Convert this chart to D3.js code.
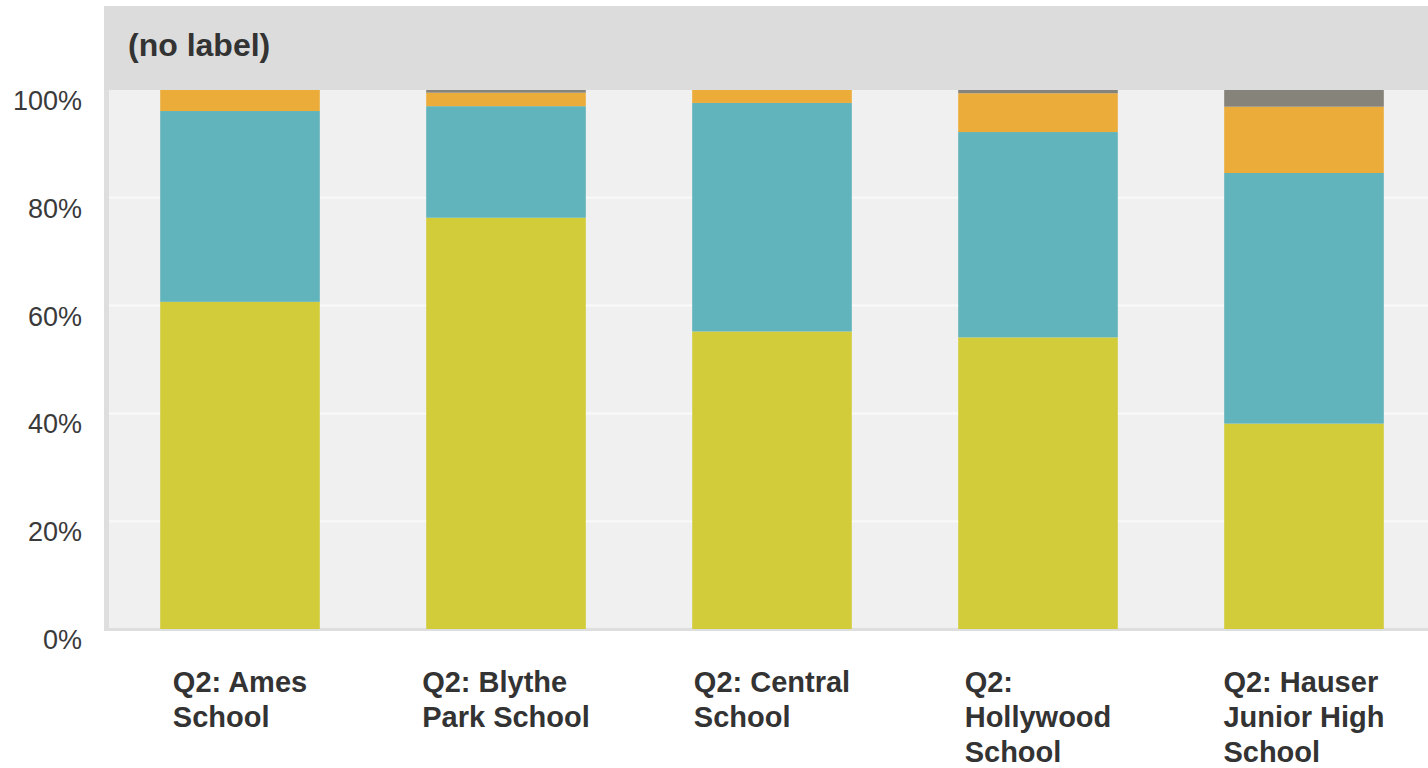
<!DOCTYPE html>
<html>
<head>
<meta charset="utf-8">
<script src="https://cdn.jsdelivr.net/npm/d3@7"></script>
<style>
  body { margin: 0; background: #fff; }
  text { font-family: "Liberation Sans", Arial, Helvetica, sans-serif; }
</style>
</head>
<body>
<div class="chart"></div>
<script>
// schools (categories)
var schools = ["Q2: Ames School", "Q2: Blythe Park School", "Q2: Central School",
               "Q2: Hollywood School", "Q2: Hauser Junior High School"];
// stacked shares in percent, bottom to top
var seriesNames = ["s1", "s2", "s3", "s4"];
var s1 = [60.7, 76.3, 55.2, 54.1, 38.1];
var s2 = [35.4, 20.7, 42.4, 38.1, 46.5];
var s3 = [3.9, 2.5, 2.4, 7.2, 12.3];
var s4 = [0.0, 0.5, 0.0, 0.6, 3.1];
var colors = ["#d2cc3a", "#61b4bb", "#ebac39", "#86847a"];
var yTicks = [0, 20, 40, 60, 80, 100];
var title = "(no label)";

const width = 1428;
const height = 768;

const svg = d3.select('.chart')
    .append('svg')
    .attr('width', width)
    .attr('height', height);

var rows = schools.map(function (d, i) {
    return { school: d, s1: s1[i], s2: s2[i], s3: s3[i], s4: s4[i] };
});
var stacked = d3.stack().keys(seriesNames)(rows);

var x = d3.scaleBand()
    .domain(schools)
    .range([107, 1437])
    .paddingInner(0.4)
    .paddingOuter(0.2);

var y = d3.scaleLinear()
    .domain([0, 100])
    .range([629, 90]);

// header band
svg.append('rect')
    .attr('x', 104).attr('y', 6)
    .attr('width', width - 104).attr('height', 84)
    .attr('fill', '#dcdcdc');
svg.append('text')
    .attr('x', 128).attr('y', 56)
    .attr('font-size', '32px')
    .attr('font-weight', 'bold')
    .attr('fill', '#333')
    .text(title);

// plot background and borders
svg.append('rect')
    .attr('x', 104).attr('y', 90)
    .attr('width', width - 104).attr('height', 541)
    .attr('fill', '#dedede');
svg.append('rect')
    .attr('x', 109).attr('y', 90)
    .attr('width', width - 109).attr('height', 538)
    .attr('fill', '#f0f0f0');

// gridlines
svg.append('g')
    .selectAll('line')
    .data(yTicks.filter(function (d) { return d > 0 && d < 100; }))
    .enter()
    .append('line')
        .attr('x1', 109).attr('x2', width)
        .attr('y1', function (d) { return y(d); })
        .attr('y2', function (d) { return y(d); })
        .attr('stroke', '#f9f9f9')
        .attr('stroke-width', 2);

// bars
svg.append('g')
    .selectAll('g')
    .data(stacked)
    .enter()
    .append('g')
        .attr('fill', function (d, i) { return colors[i]; })
    .selectAll('rect')
    .data(function (d) { return d; })
    .enter()
    .append('rect')
        .attr('x', function (d) { return x(d.data.school); })
        .attr('width', x.bandwidth())
        .attr('y', function (d) { return y(d[1]); })
        .attr('height', function (d) { return y(d[0]) - y(d[1]); });

// y axis labels
svg.append('g')
    .selectAll('text')
    .data(yTicks)
    .enter()
    .append('text')
        .attr('x', 82)
        .attr('y', function (d) { return y(d) + 20; })
        .attr('text-anchor', 'end')
        .attr('font-size', '27px')
        .attr('fill', '#3a3a3a')
        .text(function (d) { return d + '%'; });

// category labels, wrapped and centred as a block under each bar
var labels = svg.append('g')
    .selectAll('text')
    .data(schools)
    .enter()
    .append('text')
        .attr('font-size', '29px')
        .attr('font-weight', 'bold')
        .attr('fill', '#333');

labels.each(function (d) {
    var t = d3.select(this);
    var words = d.split(' ');
    var lines = [];
    var line = [];
    var maxW = 175;
    var probe = t.append('tspan');
    words.forEach(function (w) {
        line.push(w);
        probe.text(line.join(' '));
        if (probe.node().getComputedTextLength() > maxW && line.length > 1) {
            line.pop();
            lines.push(line.join(' '));
            line = [w];
        }
    });
    lines.push(line.join(' '));
    probe.remove();
    var spans = lines.map(function (l, i) {
        return t.append('tspan').attr('dy', i === 0 ? 0 : 35).text(l);
    });
    var blockW = d3.max(spans, function (s) { return s.node().getComputedTextLength(); });
    var left = x(d) + x.bandwidth() / 2 - blockW / 2;
    t.attr('y', 692);
    spans.forEach(function (s) { s.attr('x', left); });
});
</script>
</body>
</html>
